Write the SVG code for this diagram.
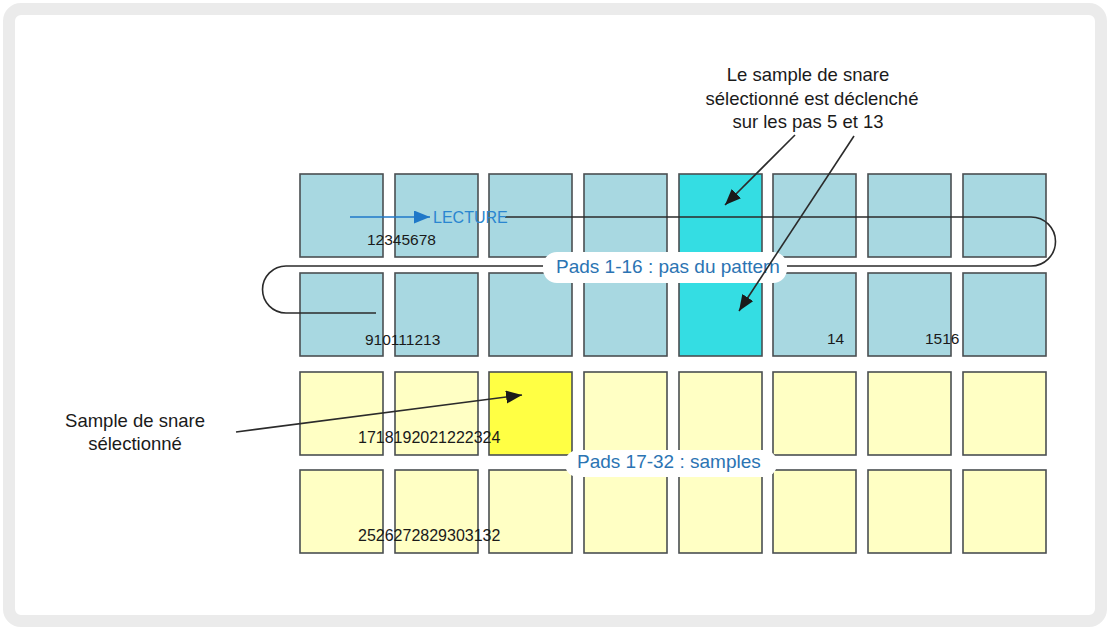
<svg xmlns="http://www.w3.org/2000/svg" width="1110" height="629" viewBox="0 0 1110 629">
<defs>
<style>
text{font-family:"Liberation Sans",Arial,sans-serif}
.pb{fill:#a8d8e1;stroke:#4a4f52;stroke-width:1.6}
.pc{fill:#34dde3;stroke:#4a4f52;stroke-width:1.6}
.py{fill:#ffffc4;stroke:#4a4f52;stroke-width:1.6}
.pyy{fill:#ffff44;stroke:#4a4f52;stroke-width:1.6}
.num{font-size:15.5px;fill:#1a1a1a}
.num2{font-size:16px;fill:#1a1a1a}
.ann{font-size:18.5px;fill:#1a1a1a;text-anchor:middle}
.lbl{font-size:19px;fill:#2b74b3}
.conn{fill:none;stroke:#2b2b2b;stroke-width:1.6}
.lbg{fill:#ffffff}
</style>
<marker id="ah" markerUnits="userSpaceOnUse" markerWidth="18" markerHeight="14" refX="16" refY="6.5" orient="auto">
<path d="M0,0 L16,6.5 L0,13 z" fill="#1a1a1a"/>
</marker>
<marker id="ahb" markerUnits="userSpaceOnUse" markerWidth="18" markerHeight="14" refX="16" refY="6.5" orient="auto">
<path d="M0,0 L16,6.5 L0,13 z" fill="#1f78c8"/>
</marker>
</defs>
<rect x="0" y="0" width="1110" height="629" fill="#ffffff"/>
<rect x="9" y="9" width="1092" height="612" rx="12" fill="#ffffff" stroke="#ebebeb" stroke-width="12"/>

<g id="pads">
<g id="pad1"><rect class="pb" x="300" y="174" width="83" height="83"/></g>
<g id="pad2"><rect class="pb" x="395" y="174" width="83" height="83"/></g>
<g id="pad3"><rect class="pb" x="489" y="174" width="83" height="83"/></g>
<g id="pad4"><rect class="pb" x="584" y="174" width="83" height="83"/></g>
<g id="pad5"><rect class="pc" x="679" y="174" width="83" height="83"/></g>
<g id="pad6"><rect class="pb" x="773" y="174" width="83" height="83"/></g>
<g id="pad7"><rect class="pb" x="868" y="174" width="83" height="83"/></g>
<g id="pad8"><rect class="pb" x="963" y="174" width="83" height="83"/></g>
<g id="pad9"><rect class="pb" x="300" y="273" width="83" height="83"/></g>
<g id="pad10"><rect class="pb" x="395" y="273" width="83" height="83"/></g>
<g id="pad11"><rect class="pb" x="489" y="273" width="83" height="83"/></g>
<g id="pad12"><rect class="pb" x="584" y="273" width="83" height="83"/></g>
<g id="pad13"><rect class="pc" x="679" y="273" width="83" height="83"/></g>
<g id="pad14"><rect class="pb" x="773" y="273" width="83" height="83"/></g>
<g id="pad15"><rect class="pb" x="868" y="273" width="83" height="83"/></g>
<g id="pad16"><rect class="pb" x="963" y="273" width="83" height="83"/></g>
<g id="pad17"><rect class="py" x="300" y="372" width="83" height="83"/></g>
<g id="pad18"><rect class="py" x="395" y="372" width="83" height="83"/></g>
<g id="pad19"><rect class="pyy" x="489" y="372" width="83" height="83"/></g>
<g id="pad20"><rect class="py" x="584" y="372" width="83" height="83"/></g>
<g id="pad21"><rect class="py" x="679" y="372" width="83" height="83"/></g>
<g id="pad22"><rect class="py" x="773" y="372" width="83" height="83"/></g>
<g id="pad23"><rect class="py" x="868" y="372" width="83" height="83"/></g>
<g id="pad24"><rect class="py" x="963" y="372" width="83" height="83"/></g>
<g id="pad25"><rect class="py" x="300" y="470" width="83" height="83"/></g>
<g id="pad26"><rect class="py" x="395" y="470" width="83" height="83"/></g>
<g id="pad27"><rect class="py" x="489" y="470" width="83" height="83"/></g>
<g id="pad28"><rect class="py" x="584" y="470" width="83" height="83"/></g>
<g id="pad29"><rect class="py" x="679" y="470" width="83" height="83"/></g>
<g id="pad30"><rect class="py" x="773" y="470" width="83" height="83"/></g>
<g id="pad31"><rect class="py" x="868" y="470" width="83" height="83"/></g>
<g id="pad32"><rect class="py" x="963" y="470" width="83" height="83"/></g>
</g>

<g id="numbers">
<text class="num" x="367" y="245">12345678</text>
<text class="num" x="365" y="345">910111213</text>
<text class="num" x="827" y="344">14</text>
<text class="num" x="925" y="344">1516</text>
<text class="num2" x="358" y="443">1718192021222324</text>
<text class="num2" x="358" y="541">2526272829303132</text>
</g>

<g id="playhead-path">
<path class="conn" d="M505 217 H1031 A24.5 24.5 0 0 1 1031 266 H286 A23.5 23.5 0 0 0 286 313 H376"/>
<line x1="350" y1="217" x2="430" y2="217" stroke="#1f78c8" stroke-width="1.6" marker-end="url(#ahb)"/>
<text x="433" y="223" font-size="16" fill="#2a86d0">LECTURE</text>
</g>

<g id="label-pads-1-16">
<rect class="lbg" x="543" y="252" width="244" height="31" rx="14"/>
<text class="lbl" x="556" y="273">Pads 1-16 : pas du pattern</text>
</g>
<g id="label-pads-17-32">
<rect class="lbg" x="565" y="450" width="212" height="27" rx="13"/>
<text class="lbl" x="577" y="468">Pads 17-32 : samples</text>
</g>

<g id="annotation-top">
<text class="ann" x="808" y="81">Le sample de snare</text>
<text class="ann" x="812" y="104.5">sélectionné est déclenché</text>
<text class="ann" x="808" y="128">sur les pas 5 et 13</text>
</g>
<g id="annotation-left">
<text class="ann" x="135" y="427">Sample de snare</text>
<text class="ann" x="135" y="450">sélectionné</text>
</g>

<g id="connectors">
<line class="conn" x1="795" y1="135" x2="725" y2="205" marker-end="url(#ah)"/>
<line class="conn" x1="854" y1="136" x2="739" y2="311" marker-end="url(#ah)"/>
<line class="conn" x1="236" y1="432" x2="522" y2="395" marker-end="url(#ah)"/>
</g>
</svg>
